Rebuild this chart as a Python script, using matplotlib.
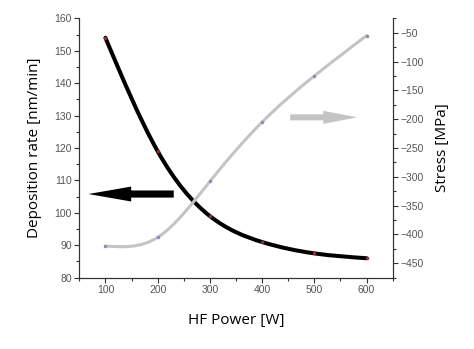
import matplotlib
matplotlib.use("Agg")
import matplotlib.pyplot as plt
import numpy as np
from matplotlib.path import Path
from matplotlib.patches import PathPatch
from matplotlib.ticker import MultipleLocator

# valeurs
puissance = [100, 200, 300, 400, 500, 600]
vitesse_depot = [154, 119, 99, 91, 87.5, 86]
contrainte = [-420, -405, -308, -205, -125, -55]


def courbeLisse(xs, ys):
    """Spline cubique naturelle passant par les points, tracée en Bezier."""
    x = np.asarray(xs, float)
    y = np.asarray(ys, float)
    n = len(x)
    h = np.diff(x)
    # pentes aux noeuds (spline naturelle)
    A = np.zeros((n, n))
    b = np.zeros(n)
    A[0, 0], A[0, 1] = 2, 1
    b[0] = 3 * (y[1] - y[0]) / h[0]
    A[-1, -2], A[-1, -1] = 1, 2
    b[-1] = 3 * (y[-1] - y[-2]) / h[-1]
    for i in range(1, n - 1):
        A[i, i - 1] = 1 / h[i - 1]
        A[i, i] = 2 * (1 / h[i - 1] + 1 / h[i])
        A[i, i + 1] = 1 / h[i]
        b[i] = 3 * ((y[i] - y[i - 1]) / h[i - 1] ** 2 + (y[i + 1] - y[i]) / h[i] ** 2)
    m = np.linalg.solve(A, b)
    verts = [(x[0], y[0])]
    codes = [Path.MOVETO]
    for i in range(n - 1):
        verts.append((x[i] + h[i] / 3, y[i] + m[i] * h[i] / 3))
        verts.append((x[i + 1] - h[i] / 3, y[i + 1] - m[i + 1] * h[i] / 3))
        verts.append((x[i + 1], y[i + 1]))
        codes += [Path.CURVE4] * 3
    return Path(verts, codes)


plt.rcParams['font.family'] = ['Liberation Sans', 'DejaVu Sans']
couleur_axe = "#333333"
couleur_txt = "#555555"

fig = plt.figure(figsize=(4.74, 3.49), dpi=100)
ax = fig.add_axes([0.1673, 0.2043, 0.6612, 0.7433])
ax2 = ax.twinx()

# ----- vitesse de dépôt -----
ax.add_patch(PathPatch(courbeLisse(puissance, vitesse_depot), fill=False,
                       edgecolor="black", lw=2.9, capstyle="round", zorder=3))
ax.plot(puissance, vitesse_depot, ls="none", marker="o", ms=1.5,
        color="#aa2222", zorder=4)
ax.set_xlim(50, 650)
ax.set_ylim(80, 160)

# ----- contrainte -----
ax2.add_patch(PathPatch(courbeLisse(puissance, contrainte), fill=False,
                        edgecolor="#c4c4c4", lw=2.2, capstyle="round", zorder=3))
ax2.plot(puissance, contrainte, ls="none", marker="o", ms=1.5,
         color="#8888cc", zorder=4)
ax2.set_ylim(-475, -25)

# flèches
ax.arrow(230.8, 105.8, -163.5, 0, width=2.2, head_width=4.6,
         head_length=82, length_includes_head=True, color="black", lw=0)
ax2.arrow(453.8, -196.8, 128.2, 0, width=10.5, head_width=22.7,
          head_length=65, length_includes_head=True, color="#c4c4c4", lw=0)

# axes
for a in (ax, ax2):
    a.spines["top"].set_visible(False)
    for s in a.spines.values():
        s.set_color(couleur_axe)
        s.set_linewidth(0.8)
    a.tick_params(which="major", length=3.5, width=0.8, color=couleur_axe,
                  labelsize=7.5, labelcolor=couleur_txt, pad=2)
    a.tick_params(which="minor", length=2, width=0.8, color=couleur_axe)

ax.xaxis.set_major_locator(MultipleLocator(100))
ax.xaxis.set_minor_locator(MultipleLocator(50))
ax.yaxis.set_major_locator(MultipleLocator(10))
ax.yaxis.set_minor_locator(MultipleLocator(5))
ax2.yaxis.set_major_locator(MultipleLocator(50))
ax2.yaxis.set_minor_locator(MultipleLocator(25))
ax2.set_ylim(-475, -25)

police_titre = {"family": ["Open Sans", "DejaVu Sans"], "size": 11}
ax.set_xlabel("HF Power [W]", fontdict=police_titre, labelpad=13)
ax.set_ylabel("Deposition rate [nm/min]", fontdict=police_titre, labelpad=9)
ax2.set_ylabel("Stress [MPa]", fontdict=police_titre, labelpad=8)

fig.savefig("out.png", dpi=100)
